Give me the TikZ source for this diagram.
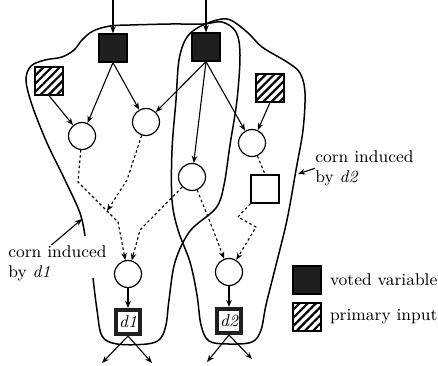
\documentclass[tikz,border=0pt]{standalone}
\usetikzlibrary{positioning,arrows.meta,patterns.meta}

\begin{document}
\begin{tikzpicture}[
  x=0.5pt, y=-0.5pt,
  font=\fontsize{8.5}{10.2}\selectfont,
  >={Stealth[length=3.6pt,width=2.8pt]},
  voted/.style={draw, fill=black!88, minimum size=14pt, inner sep=0pt, line width=0.6pt},
  prim/.style={draw, pattern={Lines[angle=45,distance=2.9pt,line width=1.1pt]},
               minimum size=14pt, inner sep=0pt, line width=0.6pt},
  op/.style={draw, circle, minimum size=13.5pt, inner sep=0pt, line width=0.6pt},
  plainbox/.style={draw, minimum size=14pt, inner sep=0pt, line width=0.6pt},
  outvar/.style={draw=black!88, fill=white, line width=2pt, minimum size=12pt,
                 inner sep=0pt, font=\fontsize{8.5}{10}\selectfont\itshape},
  lab/.style={align=left, inner sep=0pt},
  arr/.style={->, line width=0.55pt},
  darr/.style={->, line width=0.55pt, dash pattern=on 1.3pt off 1.3pt},
  dline/.style={line width=0.55pt, dash pattern=on 1.3pt off 1.3pt},
  corn/.style={line width=0.75pt},
]
\useasboundingbox (0,0) rectangle (438,365);

% ---------- inputs ----------
\node[voted] (v1) at (113,48) {};
\node[voted] (v2) at (206,47) {};
\node[prim]  (p1) at (49,81)  {};
\node[prim]  (p2) at (270,88) {};
\coordinate (t1) at (113,0);
\coordinate (t2) at (206,0);

% ---------- operations ----------
\node[op] (a1) at (82,136)  {};
\node[op] (a2) at (146,122) {};
\node[op] (a3) at (192,177) {};
\node[op] (a4) at (252,143) {};
\node[plainbox] (w) at (265,189) {};
\node[op] (a5) at (128,274) {};
\node[op] (a6) at (229,272) {};

% ---------- outputs ----------
\node[outvar] (d1) at (128,322) {d1};
\node[outvar] (d2) at (229,321) {d2};
\coordinate (o1) at (102,363);
\coordinate (o2) at (152,363);
\coordinate (o3) at (207,362);
\coordinate (o4) at (252,359);

% ---------- solid edges ----------
\draw[arr] (t1) -- (v1);
\draw[arr] (t2) -- (v2);
\draw[arr] (v1.south) -- (a1);
\draw[arr] (v1.south) -- (a2);
\draw[arr] (p1.south) -- (a1);
\draw[arr] (v2.south) -- (a2);
\draw[arr] (v2.south) -- (a3);
\draw[arr] (v2.south) -- (a4);
\draw[arr] (p2.south) -- (a4);
\draw[arr] (a5) -- (d1);
\draw[arr] (a6) -- (d2);
\draw[arr] (d1.south) -- (o1);
\draw[arr] (d1.south) -- (o2);
\draw[arr] (d2.south) -- (o3);
\draw[arr] (d2.south) -- (o4);

% ---------- dotted paths ----------
\coordinate (k1) at (78,182);
\coordinate (k2) at (118,222);
\coordinate (k3) at (127,180);
\coordinate (j1) at (107,211);
\coordinate (k4) at (140,230);
\coordinate (k5) at (214,232);
\coordinate (k6) at (238,217);
\coordinate (k7) at (256,227);
\draw[darr] (a1) -- (k1) -- (k2) -- (a5);
\draw[darr] (a2) -- (k3) -- (j1);
\draw[darr] (a3) -- (k4) -- (a5);
\draw[darr] (a3) -- (k5) -- (a6);
\draw[dline] (a4) -- (w.north);
\draw[darr] (w.south west) -- (k6) -- (k7) -- (a6);

% ---------- corns ----------
\draw[corn] plot[smooth, tension=0.55] coordinates {
  (85,236) (80,213) (65,180) (47,143) (32,105) (26,80) (31,66) (45,60) (62,57)
  (74,50) (82,40) (93,31) (110,26) (130,25) (170,24) (203,24) (222,22) (236,32)
  (240,55) (237,100) (230,145) (224,185) (216,208) (190,231) (175,262) (169,300)
  (166,325) (160,339) (147,344) (117,344) (102,336) (97,310) (93,278)};
\draw[corn] plot[smooth cycle, tension=0.55] coordinates {
  (203,25) (227,19) (247,32) (262,47) (287,62) (300,73) (305,93) (303,130)
  (296,170) (287,220) (276,265) (266,305) (261,330) (252,342) (229,344)
  (209,341) (201,325) (197,295) (190,262) (178,230) (172,200) (172,150)
  (176,100) (179,60) (187,37)};

% ---------- corn labels ----------
\node[lab, anchor=north west] (lab1) at (8,245) {corn induced\\by \textit{d1}};
\coordinate (h1) at (82,219);
\draw[arr] ([xshift=-3pt]lab1.north) -- (h1);
\node[lab, anchor=north west] (lab2) at (315,150) {corn induced\\by \textit{d2}};
\coordinate (h2) at (298,174);
\draw[arr] (lab2.west) -- (h2);

% ---------- legend ----------
\node[voted] (lv) at (307,280) {};
\node[prim]  (lp) at (307,317) {};
\node[lab, right=4pt of lv] (lvt) {voted variable};
\node[lab, right=4pt of lp] (lpt) {primary input};

\end{tikzpicture}
\end{document}
